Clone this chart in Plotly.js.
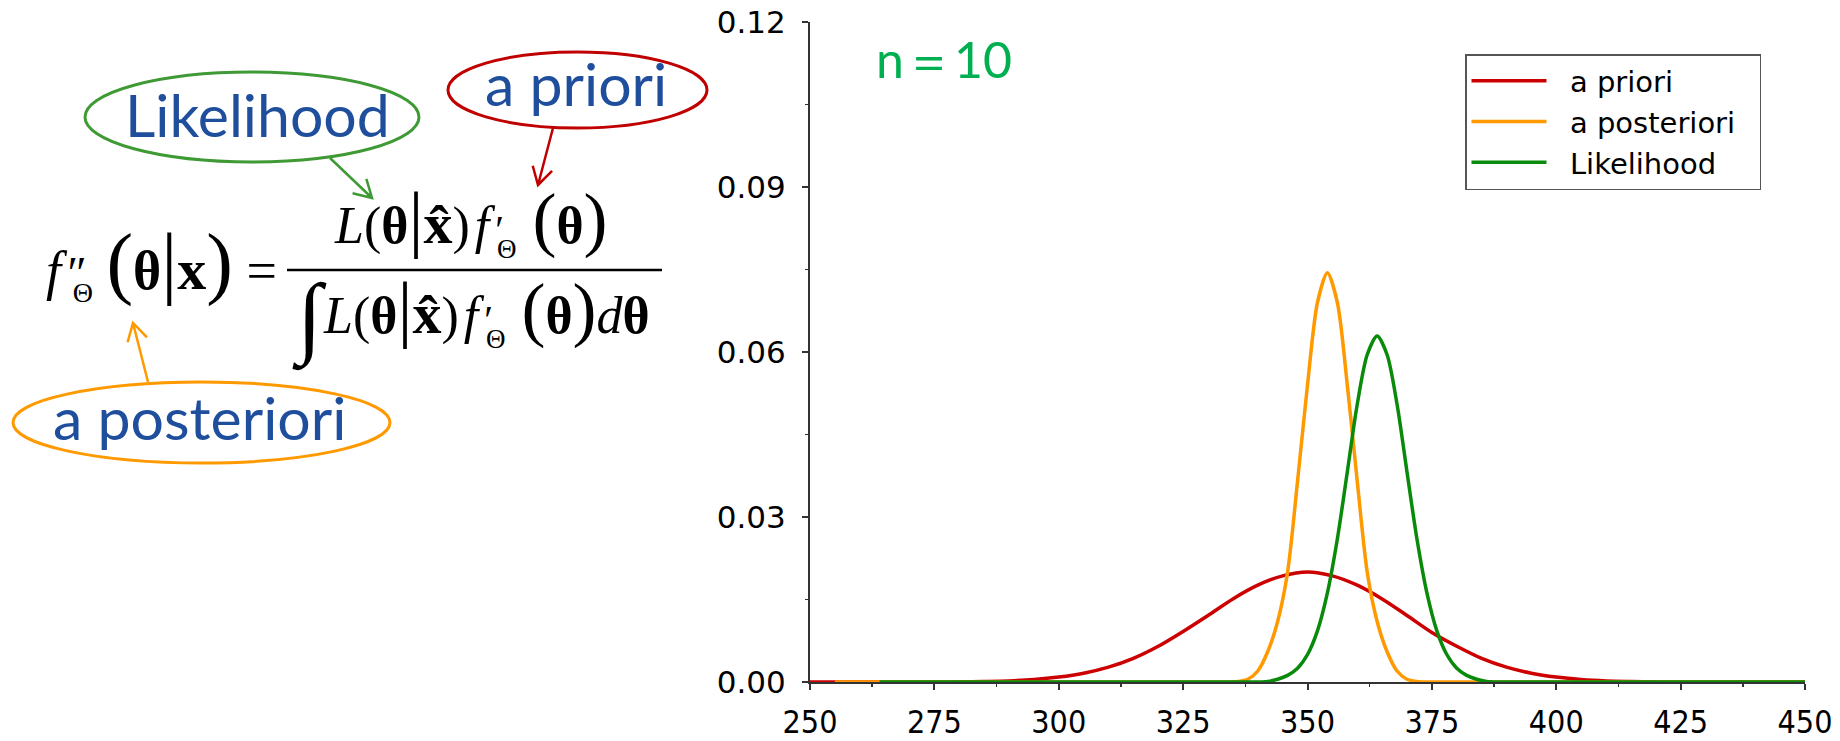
<!DOCTYPE html>
<html><head><meta charset="utf-8">
<script src="https://cdn.plot.ly/plotly-3.0.1.min.js"></script>
<style>html,body{margin:0;padding:0;background:#fff;}#chart{width:1840px;height:741px;}</style>
</head><body><div id="chart"></div>
<script>
// ---------------- data ----------------
const seriesNames = ['a priori', 'a posteriori', 'Likelihood'];
const prioriX = [250,255,260,265,270,275,280,285,290,295,300,305,310,315,320,325,330,335,340,345,350,355,360,365,370,375,380,385,390,395,400,405,410,415,420,425,430,435,440,445,450];
const prioriY = [0,0,0,0,0,0,0.00004,0.0001,0.0002,0.00045,0.0009,0.0016,0.0027,0.0043,0.0065,0.0092,0.0121,0.0151,0.0176,0.0193,0.0200,0.0193,0.0176,0.0151,0.0121,0.0090,0.0065,0.0043,0.0027,0.0016,0.0009,0.00045,0.0002,0.0001,0.00004,0,0,0,0,0,0];
const posterioriX = [255,300,330,334,336,338,340,342,344,346,348,350,352,354,356,358,360,362,364,366,368,370,372,374,380,420,450];
const posterioriY = [0,0,0,0,0.0001,0.0005,0.0020,0.0055,0.0110,0.0200,0.0365,0.0540,0.0690,0.0744,0.0690,0.0540,0.0365,0.0200,0.0110,0.0055,0.0020,0.0005,0.0001,0,0,0,0];
const likelihoodX = [264,320,336,340,342,344,346,348,350,352,354,356,358,360,362,364,366,368,370,372,374,376,378,380,382,384,386,388,400,450];
const likelihoodY = [0,0,0,0,0.0001,0.0005,0.0012,0.0025,0.0050,0.0093,0.0162,0.0260,0.0382,0.0505,0.0595,0.0629,0.0595,0.0505,0.0382,0.0260,0.0162,0.0093,0.0050,0.0025,0.0012,0.0005,0.0001,0,0,0];
const xTickVals = [250,275,300,325,350,375,400,425,450];
const xTickText = ['250','275','300','325','350','375','400','425','450'];
const yTickVals = [0,0.03,0.06,0.09,0.12];
const yTickText = ['0.00','0.03','0.06','0.09','0.12'];
const sampleLabel = 'n\uFF1D10';
const calloutLabels = ['Likelihood', 'a priori', 'a posteriori'];

// ---------------- helpers (pixel -> paper) ----------------
const W = 1840, H = 741;
const px = v => v / W;
const py = v => 1 - v / H;
const SERIF = 'Liberation Serif, Times New Roman, serif';
const LATO = 'Lato, Noto Sans, sans-serif';
const annotations = [];
function putCenter(text, x, yCenter, size, family, color, xanchor) {
  annotations.push({
    xref: 'paper', yref: 'paper', x: px(x), y: py(yCenter),
    xanchor: xanchor || 'left', yanchor: 'middle', text: text, showarrow: false,
    borderpad: 0, font: { family: family, size: size, color: color }
  });
}
const sp = (size, t) => '<span style="font-size:' + size + 'px">' + t + '</span>';
const primeOver = (mark, size, back) => '<span style="font-size:' + size + 'px;letter-spacing:-' + back + 'px">' + mark + '</span>';
const subTheta = (size, drop) => '<span style="font-size:' + size + 'px;baseline-shift:-' + drop + 'px">\u0398</span>';

// ---------------- equation (three lines + integral sign) ----------------
const lhs = '<i>f</i>' + sp(26, ' ') + primeOver('\u2033', 46, 14) + subTheta(28, 13) + ' ' +
  sp(80, '(') + '<b>\u03B8</b>' + sp(80, '|') + '<b>' + sp(58, 'x') + '</b>' + sp(80, ')') + ' =';
const fracCore = '<i>L</i>(<b>\u03B8</b>' + sp(75, '|') + '<b>' + sp(58, 'x\u0302') + '</b>)' + sp(20, ' ') + '<i>f</i>' + sp(24, ' ') +
  primeOver('\u2032', 40, 7) + subTheta(27, 15) + sp(64, ' ') + sp(72, '(') + '<b>\u03B8</b>' + sp(72, ')');
putCenter(lhs, 45, 263, 54, SERIF, '#000');
putCenter(fracCore, 333, 220, 52, SERIF, '#000');
putCenter(fracCore + '<i>d</i><b>\u03B8</b>', 322, 310, 52, SERIF, '#000');
putCenter('\u222B', 291, 318, 90, SERIF, '#000');

// callout labels
const BLUE = '#1f4e9c';
putCenter(calloutLabels[0], 257, 114, 59, LATO, BLUE, 'center');
putCenter(calloutLabels[1], 576, 84, 59, LATO, BLUE, 'center');
putCenter(calloutLabels[2], 199, 417, 59, LATO, BLUE, 'center');
// sample size label
putCenter(sampleLabel, 875, 59, 50, LATO, '#00b050', 'left');

// ---------------- shapes: ellipses, fraction bar, arrows ----------------
const shapes = [
  { type: 'circle', xref: 'paper', yref: 'paper', x0: px(85), x1: px(419), y0: py(162), y1: py(72), line: { color: '#3f9a35', width: 3 } },
  { type: 'circle', xref: 'paper', yref: 'paper', x0: px(448), x1: px(707), y0: py(128), y1: py(52), line: { color: '#c00000', width: 3 } },
  { type: 'circle', xref: 'paper', yref: 'paper', x0: px(13), x1: px(390), y0: py(463), y1: py(382), line: { color: '#ff9900', width: 3 } },
  { type: 'line', xref: 'paper', yref: 'paper', x0: px(287), x1: px(662), y0: py(270), y1: py(270), line: { color: '#000', width: 2.5 } }
];
function arrowShape(tailX, tailY, tipX, tipY, color) {
  const dx = tipX - tailX, dy = tipY - tailY, len = Math.hypot(dx, dy);
  const ux = -dx / len, uy = -dy / len, L = 20, a = Math.PI / 6;
  const b1x = tipX + L * (ux * Math.cos(a) - uy * Math.sin(a)), b1y = tipY + L * (ux * Math.sin(a) + uy * Math.cos(a));
  const b2x = tipX + L * (ux * Math.cos(a) + uy * Math.sin(a)), b2y = tipY + L * (-ux * Math.sin(a) + uy * Math.cos(a));
  const P = (x, y) => px(x) + ',' + py(y);
  shapes.push({
    type: 'path', xref: 'paper', yref: 'paper',
    path: 'M' + P(tailX, tailY) + 'L' + P(tipX, tipY) + 'M' + P(b1x, b1y) + 'L' + P(tipX, tipY) + 'L' + P(b2x, b2y),
    line: { color: color, width: 2.5 }
  });
}
arrowShape(330, 158, 372, 198, '#3f9a35');
arrowShape(553, 128, 538, 185, '#c00000');
arrowShape(148, 382, 133, 323, '#ff9900');

// ---------------- traces ----------------
const pad = s => '\u00A0\u00A0' + s + '\u00A0\u00A0';
const traces = [
  { x: prioriX, y: prioriY, name: pad(seriesNames[0]), type: 'scatter', mode: 'lines', line: { color: '#cc0000', width: 3.5, shape: 'spline', smoothing: 0.8 } },
  { x: posterioriX, y: posterioriY, name: pad(seriesNames[1]), type: 'scatter', mode: 'lines', line: { color: '#ff9900', width: 3.5, shape: 'spline', smoothing: 0.8 } },
  { x: likelihoodX, y: likelihoodY, name: pad(seriesNames[2]), type: 'scatter', mode: 'lines', line: { color: '#0a8a0a', width: 3.5, shape: 'spline', smoothing: 0.8 } }
];

const AX = '#333';
const layout = {
  width: W, height: H,
  margin: { l: 0, r: 0, t: 0, b: 0 },
  paper_bgcolor: '#fff', plot_bgcolor: '#fff',
  showlegend: true,
  legend: {
    x: px(1465), y: py(54), xanchor: 'left', yanchor: 'top',
    bgcolor: '#fff', bordercolor: '#555', borderwidth: 1.5,
    font: { family: 'DejaVu Sans, sans-serif', size: 29, color: '#000' },
    itemwidth: 75, tracegroupgap: 0
  },
  xaxis: {
    domain: [px(810), px(1805)], range: [250, 450], anchor: 'y',
    tickmode: 'array', tickvals: xTickVals, ticktext: xTickText,
    ticks: 'outside', ticklen: 6, tickwidth: 2, tickcolor: AX,
    showline: true, linecolor: AX, linewidth: 2, showgrid: false, zeroline: false,
    tickfont: { family: 'Liberation Sans Narrow, DejaVu Sans Condensed, Liberation Sans, sans-serif', size: 32, color: '#000' },
    ticklabelstandoff: 5,
    minor: { dtick: 12.5, tick0: 250, ticks: 'outside', ticklen: 3, tickwidth: 1.5, tickcolor: AX }
  },
  yaxis: {
    domain: [1 - 682 / H, 1 - 22 / H], range: [0, 0.12], anchor: 'x',
    tickmode: 'array', tickvals: yTickVals, ticktext: yTickText,
    ticks: 'outside', ticklen: 6, tickwidth: 2, tickcolor: AX,
    showline: true, linecolor: AX, linewidth: 2, showgrid: false, zeroline: false,
    tickfont: { family: 'DejaVu Sans, sans-serif', size: 31, color: '#000' },
    ticklabelstandoff: 10,
    minor: { dtick: 0.015, tick0: 0, ticks: 'outside', ticklen: 3, tickwidth: 1.5, tickcolor: AX }
  },
  xaxis2: {
    overlaying: 'x', anchor: 'y', side: 'bottom', range: [250, 450],
    tickmode: 'array', tickvals: xTickVals, showticklabels: false,
    ticks: 'inside', ticklen: 5, tickwidth: 2, tickcolor: AX,
    showline: false, showgrid: false, zeroline: false
  },
  yaxis2: {
    overlaying: 'y', anchor: 'x', side: 'left', range: [0, 0.12],
    tickmode: 'array', tickvals: yTickVals, showticklabels: false,
    ticks: 'inside', ticklen: 5, tickwidth: 2, tickcolor: AX,
    showline: false, showgrid: false, zeroline: false
  },
  shapes: shapes,
  annotations: annotations
};

Plotly.newPlot('chart', traces, layout, { staticPlot: true, displayModeBar: false });
</script>
</body></html>
